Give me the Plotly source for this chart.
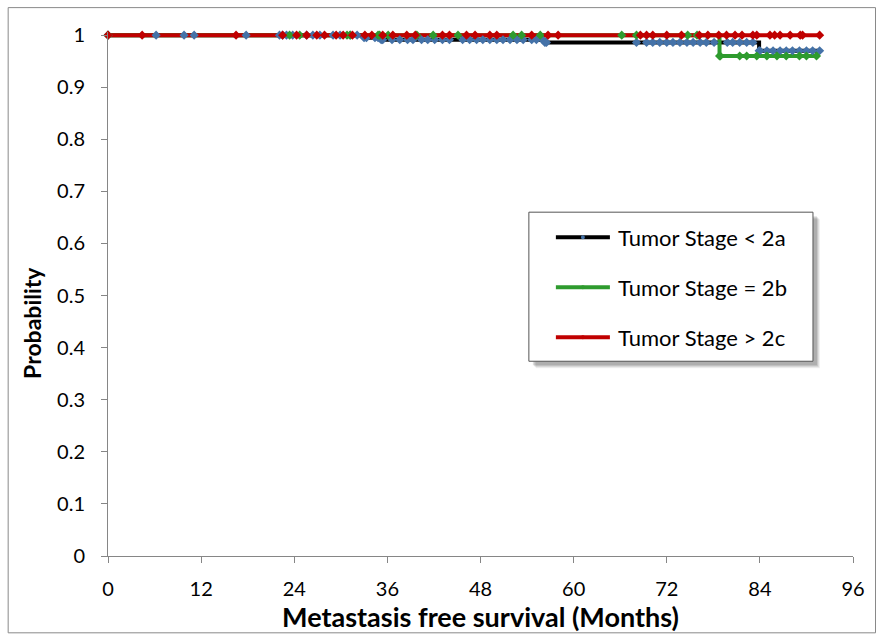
import numpy as np
import plotly.graph_objects as go

# ---------------- data ----------------
series_names = ["Tumor Stage < 2a", "Tumor Stage = 2b", "Tumor Stage > 2c"]

# event (drop) times and survival level after each drop
black_event_t = [33.0, 35.2, 56.3, 83.9]
black_event_s = [0.995, 0.991, 0.986, 0.970]
black_censor_t = [0.0, 6.2, 9.8, 11.1, 17.8, 22.1, 22.5, 23.0, 23.8, 25.6, 26.4, 27.3, 29.0, 29.9,
                  31.2, 32.1, 33.3, 34.4, 34.8, 35.4, 36.6, 37.6, 38.6, 39.3, 40.4, 41.2, 42.1,
                  43.1, 44.0, 45.7, 46.6, 47.5, 48.3, 49.2, 50.1, 50.9, 51.8, 52.7, 53.5, 54.6,
                  55.2, 56.0, 56.5, 68.1, 69.4, 70.2, 71.1, 72.0, 72.8, 73.7, 74.6, 75.4, 76.3,
                  77.1, 78.1, 79.8, 80.5, 81.4, 82.3, 83.1, 84.0, 84.9, 85.7, 86.6, 87.4, 88.2,
                  89.1, 90.0, 90.8, 91.7]

green_event_t = [78.8]
green_event_s = [0.960]
green_censor_t = [0.0, 23.4, 24.7, 30.8, 31.2, 34.8, 35.0, 36.1, 39.8, 41.9, 45.1, 52.2, 53.3,
                  55.7, 66.2, 68.1, 74.7, 75.9, 78.9, 81.4, 82.3, 83.6, 84.9, 86.2, 87.4, 89.1,
                  90.0, 91.3]

red_event_t = []
red_event_s = []
red_censor_t = [0.0, 4.4, 16.5, 22.5, 24.3, 25.6, 26.9, 27.9, 29.4, 30.3, 31.5, 33.1, 34.0, 35.4,
                36.7, 38.5, 39.6, 43.1, 44.0, 46.2, 47.3, 49.2, 50.1, 54.6, 56.7, 58.0, 68.6,
                69.4, 70.2, 72.0, 73.9, 76.2, 77.3, 78.7, 79.7, 80.8, 81.7, 83.1, 83.6, 85.3,
                85.9, 86.6, 87.9, 89.2, 89.5, 91.7]

x_ticks = [0, 12, 24, 36, 48, 60, 72, 84, 96]
y_ticks = [0, 0.1, 0.2, 0.3, 0.4, 0.5, 0.6, 0.7, 0.8, 0.9, 1]


def km_points(event_t, event_s, censor_t):
    t = np.array(sorted(set(list(event_t) + list(censor_t))), dtype=float)
    et = np.array(event_t, dtype=float)
    es = np.array(event_s, dtype=float)
    s = np.ones_like(t)
    for i, ti in enumerate(t):
        k = np.searchsorted(et, ti, side="right")
        if k > 0:
            s[i] = es[k - 1]
    return t, s


line_colors = ["#000000", "#2E9B2E", "#C00000"]
marker_colors = ["#4472A8", "#2E9B2E", "#C00000"]
marker_symbols = ["diamond", "diamond", "diamond"]
marker_sizes = [7, 7, 7]

series = [
    km_points(black_event_t, black_event_s, black_censor_t),
    km_points(green_event_t, green_event_s, green_censor_t),
    km_points(red_event_t, red_event_s, red_censor_t),
]

fig = go.Figure()
# step lines first
for i, (t, s) in enumerate(series):
    fig.add_trace(go.Scatter(
        x=t, y=s, mode="lines", name=series_names[i], legendgroup=series_names[i],
        line=dict(color=line_colors[i], width=4, shape="hv"),
        showlegend=False, hoverinfo="skip",
    ))
# censor / point markers drawn above all lines
for i, (t, s) in enumerate(series):
    fig.add_trace(go.Scatter(
        x=t, y=s, mode="markers", name=series_names[i], legendgroup=series_names[i],
        marker=dict(color=marker_colors[i], symbol=marker_symbols[i], size=marker_sizes[i]),
        cliponaxis=False, showlegend=False,
    ))

# ---------------- layout helpers (pixel -> paper) ----------------
W, H = 883, 638
X0, X1 = 108.3, 853.0
YTOP_VAL = 1.006          # small headroom so the line at 1 is not clipped
Y1_PIX, Y0 = 35.0, 555.7  # pixel rows of value 1 and value 0
PLOT_H = (Y0 - Y1_PIX) * YTOP_VAL
Y1 = Y0 - PLOT_H          # top of the plot area


def px(x):
    return (x - X0) / (X1 - X0)


def py(y):
    return (Y0 - y) / (Y0 - Y1)


FONT = "Lato, 'Open Sans', sans-serif"
shapes = []
annotations = []

# outer chart border
shapes.append(dict(type="rect", xref="paper", yref="paper", x0=px(8.5), x1=px(875.5),
                   y0=py(632.5), y1=py(7.5), line=dict(color="#898989", width=1), layer="below"))

# legend box with shadow
lx0, lx1, ly0, ly1 = 529, 813, 212, 361
for off, alpha in [(7, 0.06), (6, 0.08), (5, 0.10), (4, 0.12)]:
    shapes.append(dict(type="rect", xref="paper", yref="paper",
                       x0=px(lx0 + off), x1=px(lx1 + off), y0=py(ly1 + off), y1=py(ly0 + off),
                       fillcolor=f"rgba(0,0,0,{alpha})", line=dict(width=0), layer="above"))
shapes.append(dict(type="rect", xref="paper", yref="paper", x0=px(lx0), x1=px(lx1),
                   y0=py(ly1), y1=py(ly0), fillcolor="white",
                   line=dict(color="#555555", width=1), layer="above"))

row_y = [237, 287, 337]
for i in range(3):
    shapes.append(dict(type="line", xref="paper", yref="paper", x0=px(556), x1=px(610),
                       y0=py(row_y[i]), y1=py(row_y[i]),
                       line=dict(color=line_colors[i], width=4), layer="above"))
    shapes.append(dict(type="circle", xref="paper", yref="paper", x0=px(581), x1=px(585),
                       y0=py(row_y[i] + 2), y1=py(row_y[i] - 2),
                       fillcolor=marker_colors[i], line=dict(width=0), layer="above"))
    annotations.append(dict(x=px(616), y=py(row_y[i]), xref="paper", yref="paper",
                            xanchor="left", yanchor="middle", showarrow=False,
                            text=series_names[i], font=dict(family=FONT, size=22, color="#000000")))

# y-axis title
annotations.append(dict(x=px(33), y=py(323), xref="paper", yref="paper",
                        xanchor="center", yanchor="middle", showarrow=False, textangle=-90,
                        text="<b>Probability</b>", font=dict(family=FONT, size=23, color="#000000")))

fig.update_layout(
    width=W, height=H,
    margin=dict(l=X0, r=W - X1, t=Y1, b=H - Y0),
    paper_bgcolor="white", plot_bgcolor="white",
    shapes=shapes, annotations=annotations,
    font=dict(family=FONT, color="#000000"),
    xaxis=dict(range=[0, 96], tickvals=x_ticks, ticktext=[str(v) for v in x_ticks],
               showgrid=False, zeroline=False, showline=True, linecolor="#868686", linewidth=1,
               ticks="outside", ticklen=6, tickcolor="#868686", ticklabelstandoff=9,
               tickfont=dict(family=FONT, size=20),
               title=dict(text="<b>Metastasis free survival (Months)</b>", standoff=3,
                          font=dict(family=FONT, size=27))),
    yaxis=dict(range=[0, YTOP_VAL], tickvals=y_ticks, ticktext=[f"{v:g}" for v in y_ticks],
               showgrid=False, zeroline=False, showline=True, linecolor="#868686", linewidth=1,
               ticks="outside", ticklen=6, tickcolor="#868686", ticklabelstandoff=12,
               tickfont=dict(family=FONT, size=20)),
)

fig.write_html("out.html")
